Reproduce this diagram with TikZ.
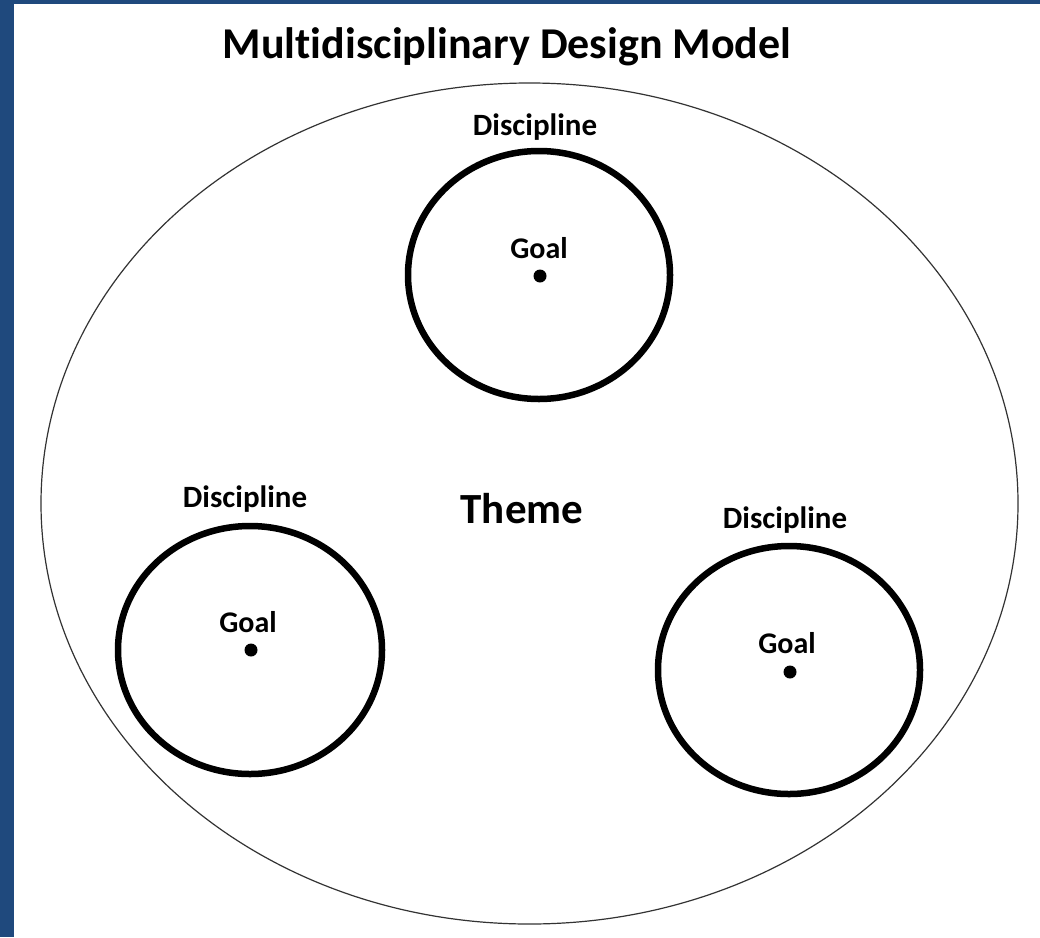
\documentclass[tikz,border=0pt]{standalone}
\usepackage{fontspec}
\setmainfont[Ligatures={NoCommon}]{Carlito}
\definecolor{frameblue}{RGB}{31,73,125}
\begin{document}
\begin{tikzpicture}[x=1pt,y=-1pt,
  disc/.style={draw=black,line width=6.5pt},
  lbl/.style={anchor=base,inner sep=0pt,font=\bfseries\fontsize{31}{36}\selectfont},
  glbl/.style={anchor=base,inner sep=0pt,font=\bfseries\fontsize{30}{35}\selectfont},
  dotmark/.style={fill=black,draw=none}]
\useasboundingbox (0,0) rectangle (1040,937);
\fill[frameblue] (0,0) rectangle (1040,937);
\fill[white] (14,4) rectangle (1040,937);
\node[anchor=base,inner sep=0pt,font=\bfseries\fontsize{44}{50}\selectfont] (title) at (507,58) {Multidisciplinary Design Model};
\draw[line width=1.2pt,black!80] (529.5,503.5) ellipse [x radius=488.5,y radius=420.5];
\node[anchor=base,inner sep=0pt,font=\bfseries\fontsize{43}{49}\selectfont] (theme) at (522,523) {Theme};
% top
\draw[disc] (539,275) ellipse [x radius=131,y radius=124];
\fill[dotmark] (540,276) circle (6.5);
\node[lbl] (d1) at (535,135) {Discipline};
\node[glbl] (g1) at (539,258) {Goal};
% bottom left
\draw[disc] (250,650) ellipse [x radius=132,y radius=124];
\fill[dotmark] (251,650) circle (6.5);
\node[lbl] (d2) at (245,507) {Discipline};
\node[glbl] (g2) at (248,632) {Goal};
% bottom right
\draw[disc] (789,670) ellipse [x radius=131,y radius=124];
\fill[dotmark] (790,672) circle (6.5);
\node[lbl] (d3) at (785,528) {Discipline};
\node[glbl] (g3) at (787,653) {Goal};
\end{tikzpicture}
\end{document}
